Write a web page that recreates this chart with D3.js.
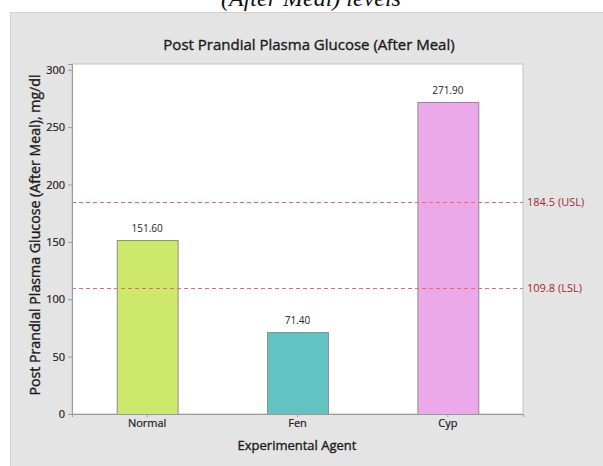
<!DOCTYPE html>
<html>
<head>
<meta charset="utf-8">
<script src="https://cdn.jsdelivr.net/npm/d3@7/dist/d3.min.js"></script>
<style>
  body { margin: 0; background: #fff; }
  svg { display: block; }
  .heavy { stroke: #1a1a1a; stroke-width: 0.35px; paint-order: stroke; }
</style>
</head>
<body>
<div id="chart"></div>
<script>
'use strict'
// data
var agents = ["Normal", "Fen", "Cyp"];
var glucose = [151.6, 71.4, 271.9];
var barColors = ["#cde86b", "#63c3c2", "#eca9ea"];
var refValues = [184.5, 109.8];
var refNames = ["USL", "LSL"];
var yTicks = [0, 50, 100, 150, 200, 250, 300];

var W = 603, H = 466;
var plot = {left: 72, right: 523, top: 64, bottom: 414};
var font = "'Open Sans', 'Noto Sans', sans-serif";

var svg = d3.select("#chart").append("svg")
    .attr("width", W)
    .attr("height", H);

// caption left over from the page above
svg.append("text")
    .attr("x", 311)
    .attr("y", 6)
    .attr("text-anchor", "middle")
    .attr("font-family", "'Liberation Serif', 'Times New Roman', serif")
    .attr("font-style", "italic")
    .attr("font-size", "24px")
    .attr("fill", "#111")
    .text("(After Meal) levels");

// grey graph panel
svg.append("rect")
    .attr("x", 10.5)
    .attr("y", 12.5)
    .attr("width", W)
    .attr("height", H)
    .attr("fill", "#e4e4e4")
    .attr("stroke", "#d0d0d0");

var x = d3.scaleBand()
    .domain(agents)
    .range([plot.left, plot.right])
    .paddingInner(0.595)
    .paddingOuter(0.2975);

var y = d3.scaleLinear()
    .domain([0, 305])
    .range([plot.bottom, plot.top]);

// data region
svg.append("rect")
    .attr("x", plot.left)
    .attr("y", plot.top)
    .attr("width", plot.right - plot.left)
    .attr("height", plot.bottom - plot.top)
    .attr("fill", "#fff")
    .attr("stroke", "#c4c4c4");

// bars
svg.append("g")
    .selectAll("rect")
    .data(agents)
    .enter()
    .append("rect")
    .attr("x", function(d){ return x(d) + 0.5; })
    .attr("y", function(d, i){ return y(glucose[i]) + 0.5; })
    .attr("width", x.bandwidth())
    .attr("height", function(d, i){ return y(0) - y(glucose[i]); })
    .attr("fill", function(d, i){ return barColors[i]; })
    .attr("stroke", "#8c8c8c");

// value labels
svg.append("g")
    .selectAll("text")
    .data(agents)
    .enter()
    .append("text")
    .attr("x", function(d){ return x(d) + x.bandwidth() / 2; })
    .attr("y", function(d, i){ return y(glucose[i]) - 8; })
    .attr("text-anchor", "middle")
    .attr("font-family", font)
    .attr("font-size", "10px")
    .attr("fill", "#222")
    .text(function(d, i){ return glucose[i].toFixed(2); });

// reference lines
var refs = svg.append("g");
refs.selectAll("line")
    .data(refValues)
    .enter()
    .append("line")
    .attr("x1", plot.left)
    .attr("x2", plot.right)
    .attr("y1", function(d){ return Math.round(y(d)) + 0.5; })
    .attr("y2", function(d){ return Math.round(y(d)) + 0.5; })
    .attr("stroke", "#ee6a6a")
    .attr("stroke-width", 1)
    .attr("stroke-dasharray", "4,3");

refs.selectAll("text")
    .data(refValues)
    .enter()
    .append("text")
    .attr("x", plot.right + 4)
    .attr("y", function(d){ return y(d) + 4; })
    .attr("font-family", font)
    .attr("font-size", "11px")
    .attr("fill", "#a3282c")
    .text(function(d, i){ return d.toFixed(1) + " (" + refNames[i] + ")"; });

// axes
var yAxis = svg.append("g")
    .attr("transform", "translate(" + plot.left + ",0)")
    .call(d3.axisLeft(y).tickValues(yTicks).tickSize(4).tickPadding(3));

var xAxis = svg.append("g")
    .attr("transform", "translate(0," + plot.bottom + ")")
    .call(d3.axisBottom(x).tickSize(3).tickPadding(2));

[yAxis, xAxis].forEach(function(ax){
    ax.select(".domain").attr("stroke", "#9a9a9a");
    ax.selectAll(".tick line").attr("stroke", "#9a9a9a");
    ax.selectAll(".tick text")
        .attr("font-family", font)
        .attr("font-size", "11px")
        .attr("fill", "#1a1a1a")
        .attr("class", "heavy")
        .style("stroke-width", "0.2px");
});

// titles
svg.append("text")
    .attr("x", 309)
    .attr("y", 50)
    .attr("text-anchor", "middle")
    .attr("class", "heavy")
    .attr("font-family", font)
    .attr("font-size", "15px")
    .attr("fill", "#1a1a1a")
    .text("Post Prandial Plasma Glucose (After Meal)");

svg.append("text")
    .attr("x", 297)
    .attr("y", 450)
    .attr("text-anchor", "middle")
    .attr("class", "heavy")
    .attr("font-family", font)
    .attr("font-size", "13px")
    .attr("fill", "#1a1a1a")
    .text("Experimental Agent");

svg.append("text")
    .attr("transform", "translate(40,235) rotate(-90)")
    .attr("text-anchor", "middle")
    .attr("class", "heavy")
    .attr("font-family", font)
    .attr("font-size", "14.2px")
    .attr("fill", "#1a1a1a")
    .text("Post Prandial Plasma Glucose (After Meal), mg/dl");
</script>
</body>
</html>
